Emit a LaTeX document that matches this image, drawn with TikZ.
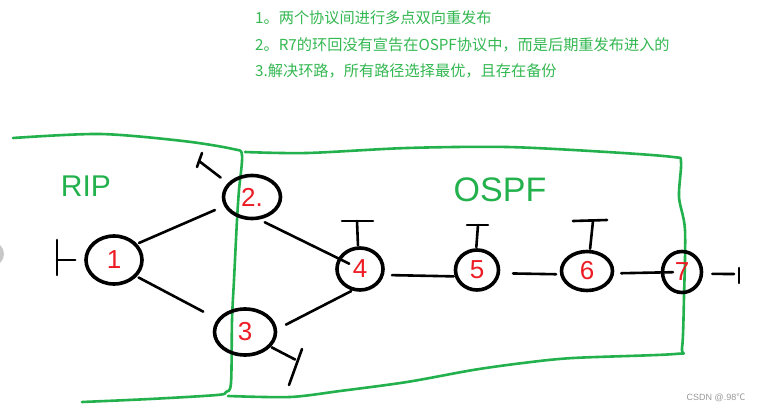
\documentclass[tikz,border=0pt]{standalone}
\usepackage{fontspec}
\setmainfont{Liberation Sans}
\newfontfamily\cjk{Noto Sans CJK SC}
\usetikzlibrary{shapes.geometric}
\definecolor{pgreen}{RGB}{34,177,76}
\definecolor{tgreen}{RGB}{52,184,82}
\definecolor{pred}{RGB}{237,28,36}
\tikzset{
  router/.style={ellipse, draw=black, line width=3.6pt, inner sep=0pt,
    text=pred, font=\fontsize{26}{26}\selectfont},
  link/.style={draw=black, line width=2.6pt, line cap=round},
  zone/.style={draw=pgreen, line width=2.6pt, line cap=round, line join=round},
  zonelabel/.style={text=pgreen, font=\fontsize{30}{30}\selectfont},
  note/.style={text=tgreen, anchor=west, inner sep=0pt, font=\cjk\fontsize{15.2}{16}\selectfont},
}
\begin{document}
\begin{tikzpicture}[x=1pt,y=-1pt]
\useasboundingbox (0,0) rectangle (764,415);
\clip (0,0) rectangle (764,415);
\fill[white] (0,0) rectangle (764,415);
\fill[black!22] (-8,254) circle (12);

% notes
\node[note] (n1) at (255,18) {1。两个协议间进行多点双向重发布};
\node[note] (n2) at (255,45) {2。R7的环回没有宣告在OSPF协议中，而是后期重发布进入的};
\node[note] (n3) at (255,71) {3.解决环路，所有路径选择最优，且存在备份};

% zones
\draw[zone] plot[smooth, tension=0.5] coordinates {(13,138) (100,134) (183,141) (233,149) (242,155) (239,190) (237,220) (234,280) (232,320) (231,383) (226,392) (217,395) (150,399) (82,402)};
\draw[zone] plot[smooth, tension=0.5] coordinates {(245,152) (307,153) (407,148) (507,147) (607,152) (673,157) (681,162) (679,197) (685,230) (684,297) (682,348) (675,354) (573,358) (523,363) (473,370) (407,382) (340,391) (290,397) (228,396)};

\node[zonelabel] (rip) at (86,186) {RIP};
\node[zonelabel, font=\fontsize{34}{34}\selectfont] (ospf) at (500,190) {OSPF};

% routers
\node[router, minimum width=56pt, minimum height=48pt] (r1) at (114,260) {1};
\node[router, minimum width=57pt, minimum height=43pt] (r2) at (252,197) {2.};
\node[router, minimum width=61pt, minimum height=46pt] (r3) at (245,332) {3};
\node[router, minimum width=46pt, minimum height=42pt] (r4) at (360,269) {4};
\node[router, minimum width=43pt, minimum height=40pt] (r5) at (477,270) {5};
\node[router, minimum width=51pt, minimum height=39pt] (r6) at (587,271) {6};
\node[router, minimum width=39pt, minimum height=41pt] (r7) at (682,272) {7};

% links
\draw[link, shorten <=2pt, shorten >=10pt] (r1.35) -- (r2.-162);
\draw[link, shorten <=2pt, shorten >=16pt] (r1.-36) -- (r3.155);
\draw[link, shorten <=6pt, shorten >=12pt] (r2.-72) -- (r4.center);
\draw[link, shorten <=10pt, shorten >=1pt] (r3.5) -- (r4.-110);
\draw[link, shorten <=8pt, shorten >=1pt] (r4.-14) -- (r5.-164);
\draw[link, shorten <=13pt, shorten >=4pt] (r5.-8) -- (r6.-173);
\draw[link, shorten <=7pt, shorten >=9pt] (r6.-5) -- (r7.center);

% loopbacks
\coordinate (lb1) at (57,260);
\draw[link, shorten <=9pt] (r1.west) -- (lb1);
\draw[link] (lb1) ++(0,-20) -- ++(0,35);
\coordinate (lb2) at (199,161);
\draw[link, shorten <=9pt] (r2.150) -- (lb2);
\draw[link] (lb2) ++(3,-8) -- ++(-5,14);
\coordinate (lb3) at (296,360);
\draw[link, shorten <=1pt, shorten >=1pt] (r3.-30) -- (lb3);
\draw[link] (lb3) ++(6,-11) -- ++(-13,36);
\coordinate (lb4) at (357,221);
\draw[link, shorten <=1pt] (r4.95) -- (lb4);
\draw[link] (lb4) ++(-15,0) -- ++(31,0);
\coordinate (lb5) at (478,225);
\draw[link, shorten <=1pt] (r5.92) -- (lb5);
\draw[link] (lb5) ++(-11,0) -- ++(21,0);
\coordinate (lb6) at (593,221);
\draw[link, shorten <=1pt] (r6.82) -- (lb6);
\draw[link] (lb6) ++(-20,0) -- ++(34,-1);
\coordinate (lb7) at (734,274);
\draw[link, shorten <=9pt] (r7.-5) -- (lb7);
\draw[link] (lb7) ++(5,-6) -- ++(0,15);

% watermark
\node[text=black!40, inner sep=0pt, font=\fontsize{9}{9}\selectfont] (wm) at (716,398) {CSDN @.98{\cjk ℃}};
\end{tikzpicture}
\end{document}
